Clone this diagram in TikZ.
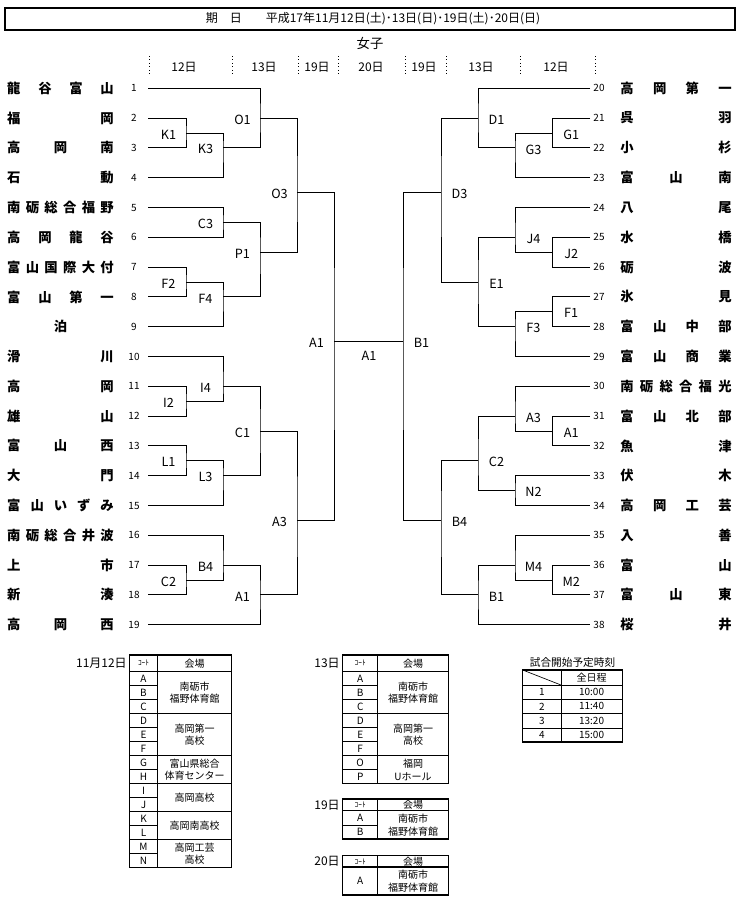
\documentclass[tikz,border=0pt]{standalone}
\usepackage{fontspec}
\newfontfamily\jp{Noto Sans CJK JP}
\usetikzlibrary{calc}

\tikzset{
  bline/.style={line width=0.75pt},
  tframe/.style={line width=1.1pt},
  tline/.style={line width=0.5pt},
  teamname/.style={font=\jp\bfseries\fontsize{10}{10}\selectfont, inner sep=0pt},
  teamnum/.style={font=\jp\fontsize{7.5}{7.5}\selectfont, inner sep=0pt},
  mlab/.style={font=\jp\fontsize{9.5}{9.5}\selectfont, inner sep=0pt},
  tabtxt/.style={font=\jp\fontsize{7.5}{9.5}\selectfont, inner sep=0pt, align=center},
  tabsmall/.style={font=\jp\fontsize{5.5}{6}\selectfont, inner sep=0pt},
  tabhead/.style={font=\jp\fontsize{9}{9}\selectfont, inner sep=0pt},
}
% row k of the bracket grid
\newcommand\ky[1]{{88.3+14.9*(#1)}}
% match: name, label, upper input, lower input, x of vertical, row of output
\newcommand\matchL[6]{%
  \coordinate (#1) at (#5,\ky{#6});
  \draw[bline] (#3) -| (#1) |- (#4);
  \node[mlab] (#1-l) at ({#5-17.5},{89.8+14.9*(#6)}) {#2};}
\newcommand\matchR[6]{%
  \coordinate (#1) at (#5,\ky{#6});
  \draw[bline] (#3) -| (#1) |- (#4);
  \node[mlab] (#1-l) at ({#5+18.5},{89.8+14.9*(#6)}) {#2};}

\begin{document}
\begin{tikzpicture}[x=0.75pt, y=-0.75pt]
  \fill[white] (0,0) rectangle (740,903);
  \useasboundingbox (0,0) rectangle (740,903);

  % header
  \draw[line width=1pt] (5,8) rectangle (735,30);
  \node[tabhead] (title) at (373,19) {期\quad 日\qquad 平成17年11月12日(土)･13日(日)･19日(土)･20日(日)};
  \node[font=\jp\fontsize{10}{10}\selectfont, inner sep=0pt] (girls) at (370,43) {女子};
  \foreach \x in {149,232,298,338,405,446,520,595}
    \draw[dotted, line width=0.6pt] (\x,56) -- (\x,76);
  \foreach \x/\d [count=\q] in {184/12日,264/13日,317/19日,371/20日,424/19日,481/13日,556/12日}
    \node[tabhead] (day\q) at (\x,67) {\d};

  % teams, left
  \foreach \i/\nm in {1/{龍\hfill 谷\hfill 富\hfill 山}, 2/{福\hfill 岡}, 3/{高\hfill 岡\hfill 南},
      4/{石\hfill 動}, 5/{南\hfill 砺\hfill 総\hfill 合\hfill 福\hfill 野}, 6/{高\hfill 岡\hfill 龍\hfill 谷},
      7/{富\hfill 山\hfill 国\hfill 際\hfill 大\hfill 付}, 8/{富\hfill 山\hfill 第\hfill 一}, 9/{\hfill 泊\hfill},
      10/{滑\hfill 川}, 11/{高\hfill 岡}, 12/{雄\hfill 山}, 13/{富\hfill 山\hfill 西}, 14/{大\hfill 門},
      15/{富\hfill 山\hfill い\hfill ず\hfill み}, 16/{南\hfill 砺\hfill 総\hfill 合\hfill 井\hfill 波},
      17/{上\hfill 市}, 18/{新\hfill 湊}, 19/{高\hfill 岡\hfill 西}}{
    \coordinate (t\i) at (148,\ky{2*(\i-1)});
    \node[teamname] (n\i) at (60.5,\ky{2*(\i-1)}) {\makebox[80pt][s]{\nm}};
    \node[teamnum] (num\i) at (134,\ky{2*(\i-1)}) {\i};
  }
  % teams, right
  \foreach \i/\nm in {20/{高\hfill 岡\hfill 第\hfill 一}, 21/{呉\hfill 羽}, 22/{小\hfill 杉}, 23/{富\hfill 山\hfill 南},
      24/{八\hfill 尾}, 25/{水\hfill 橋}, 26/{砺\hfill 波}, 27/{氷\hfill 見}, 28/{富\hfill 山\hfill 中\hfill 部},
      29/{富\hfill 山\hfill 商\hfill 業}, 30/{南\hfill 砺\hfill 総\hfill 合\hfill 福\hfill 光},
      31/{富\hfill 山\hfill 北\hfill 部}, 32/{魚\hfill 津}, 33/{伏\hfill 木}, 34/{高\hfill 岡\hfill 工\hfill 芸},
      35/{入\hfill 善}, 36/{富\hfill 山}, 37/{富\hfill 山\hfill 東}, 38/{桜\hfill 井}}{
    \coordinate (t\i) at (590,\ky{2*(\i-20)});
    \node[teamnum] (num\i) at (599,\ky{2*(\i-20)}) {\i};
    \node[teamname] (n\i) at (676,\ky{2*(\i-20)}) {\makebox[83.5pt][s]{\nm}};
  }

  % left bracket
  \matchL{lK1}{K1}{t2}{t3}{186}{3}
  \matchL{lK3}{K3}{lK1}{t4}{223}{4}
  \matchL{lO1}{O1}{t1}{lK3}{260}{2}
  \matchL{lC3}{C3}{t5}{t6}{223}{9}
  \matchL{lF2}{F2}{t7}{t8}{186}{13}
  \matchL{lF4}{F4}{lF2}{t9}{223}{14}
  \matchL{lP1}{P1}{lC3}{lF4}{260}{11}
  \matchL{lO3}{O3}{lO1}{lP1}{297}{7}
  \matchL{lI2}{I2}{t11}{t12}{186}{21}
  \matchL{lI4}{I4}{t10}{lI2}{223}{20}
  \matchL{lL1}{L1}{t13}{t14}{186}{25}
  \matchL{lL3}{L3}{lL1}{t15}{223}{26}
  \matchL{lC1}{C1}{lI4}{lL3}{260}{23}
  \matchL{lC2}{C2}{t17}{t18}{186}{33}
  \matchL{lB4}{B4}{t16}{lC2}{223}{32}
  \matchL{lA1}{A1}{lB4}{t19}{260}{34}
  \matchL{lA3}{A3}{lC1}{lA1}{297}{29}
  \matchL{lfin}{A1}{lO3}{lA3}{334}{17}

  % right bracket
  \matchR{rG1}{G1}{t21}{t22}{552.7}{3}
  \matchR{rG3}{G3}{rG1}{t23}{515}{4}
  \matchR{rD1}{D1}{t20}{rG3}{478}{2}
  \matchR{rJ2}{J2}{t25}{t26}{552.7}{11}
  \matchR{rJ4}{J4}{t24}{rJ2}{515}{10}
  \matchR{rF1}{F1}{t27}{t28}{552.7}{15}
  \matchR{rF3}{F3}{rF1}{t29}{515}{16}
  \matchR{rE1}{E1}{rJ4}{rF3}{478}{13}
  \matchR{rD3}{D3}{rD1}{rE1}{441}{7}
  \matchR{rA1}{A1}{t31}{t32}{552.7}{23}
  \matchR{rA3}{A3}{t30}{rA1}{515}{22}
  \matchR{rN2}{N2}{t33}{t34}{515}{27}
  \matchR{rC2}{C2}{rA3}{rN2}{478}{25}
  \matchR{rM2}{M2}{t36}{t37}{552.7}{33}
  \matchR{rM4}{M4}{t35}{rM2}{515}{32}
  \matchR{rB1}{B1}{rM4}{t38}{478}{34}
  \matchR{rB4}{B4}{rC2}{rB1}{441}{29}
  \matchR{rfin}{B1}{rD3}{rB4}{403}{17}

  % final
  \draw[bline] (lfin) -- (rfin);
  \node[mlab] (final) at (369,356) {A1};

  % venues 11/12
  \node[tabhead, anchor=east] (d12) at (127,663) {11月12日};
  \draw[tframe] (129.3,655) rectangle (231.7,867.7);
  \draw[tline] (157.7,655) -- (157.7,867.7);
  \draw[line width=1pt] (129.3,671.7) -- (231.7,671.7);
  \node[tabsmall] (c1h) at (143.5,663.3) {ｺｰﾄ};
  \node[tabtxt] (v1h) at (194.7,663.3) {会場};
  \foreach \l [count=\r] in {A,B,C,D,E,F,G,H,I,J,K,L,M,N}
    \node[tabtxt] (c1\l) at (143.5,{664.7+14*\r}) {\l};
  \foreach \r in {1,...,13}
    \draw[tline] (129.3,{671.7+14*\r}) -- (157.7,{671.7+14*\r});
  \foreach \r in {3,6,8,10,12}
    \draw[tline] (157.7,{671.7+14*\r}) -- (231.7,{671.7+14*\r});
  \foreach \r/\v [count=\q] in {1.5/{南砺市\\福野体育館}, 4.5/{高岡第一\\高校}, 7/{富山県総合\\体育センター},
      9/{高岡高校}, 11/{高岡南高校}, 13/{高岡工芸\\高校}}
    \node[tabtxt] (v1-\q) at (194.7,{671.7+14*\r}) {\v};

  % venues 13
  \node[tabhead, anchor=east] (d13) at (340,663) {13日};
  \draw[tframe] (342.7,655) rectangle (448.3,783.7);
  \draw[tline] (377.7,655) -- (377.7,783.7);
  \draw[line width=1pt] (342.7,671.7) -- (448.3,671.7);
  \node[tabsmall] (c2h) at (360.2,663.3) {ｺｰﾄ};
  \node[tabtxt] (v2h) at (413,663.3) {会場};
  \foreach \l [count=\r] in {A,B,C,D,E,F,O,P}
    \node[tabtxt] (c2\l) at (360.2,{664.7+14*\r}) {\l};
  \foreach \r in {1,...,7}
    \draw[tline] (342.7,{671.7+14*\r}) -- (377.7,{671.7+14*\r});
  \foreach \r in {3,6}
    \draw[tline] (377.7,{671.7+14*\r}) -- (448.3,{671.7+14*\r});
  \foreach \r/\v [count=\q] in {1.5/{南砺市\\福野体育館}, 4.5/{高岡第一\\高校}, 7/{福岡\\Uホール}}
    \node[tabtxt] (v2-\q) at (413,{671.7+14*\r}) {\v};

  % venues 19
  \node[tabhead, anchor=east] (d19) at (340,805) {19日};
  \draw[tframe] (342.7,799) rectangle (448.3,839);
  \draw[tline] (377.7,799) -- (377.7,839);
  \draw[line width=1pt] (342.7,810.7) -- (448.3,810.7);
  \draw[tline] (342.7,824.9) -- (377.7,824.9);
  \node[tabsmall] (c3h) at (360.2,805) {ｺｰﾄ};
  \node[tabtxt] (v3h) at (413,805) {会場};
  \node[tabtxt] (c3A) at (360.2,817.8) {A};
  \node[tabtxt] (c3B) at (360.2,832) {B};
  \node[tabtxt] (v3-1) at (413,824.9) {南砺市\\福野体育館};

  % venues 20
  \node[tabhead, anchor=east] (d20) at (340,861.5) {20日};
  \draw[tframe] (342.7,855.7) rectangle (448.3,895);
  \draw[tline] (377.7,855.7) -- (377.7,895);
  \draw[line width=1pt] (342.7,867) -- (448.3,867);
  \node[tabsmall] (c4h) at (360.2,861.5) {ｺｰﾄ};
  \node[tabtxt] (v4h) at (413,861.5) {会場};
  \node[tabtxt] (c4A) at (360.2,881) {A};
  \node[tabtxt] (v4-1) at (413,881) {南砺市\\福野体育館};

  % start times
  \node[tabtxt, font=\jp\fontsize{8}{8}\selectfont] (tt) at (572.5,662) {試合開始予定時刻};
  \draw[tframe] (522.7,670) rectangle (622.3,742.2);
  \draw[tline] (561,670) -- (561,742.2);
  \draw[tline] (522.7,670) -- (561,685);
  \draw[tline] (522.7,685) -- (622.3,685);
  \node[tabtxt] (tth) at (591.6,677.5) {全日程};
  \foreach \n/\t in {1/10:00, 2/11:40, 3/13:20, 4/15:00}{
    \draw[tline] (522.7,{685+14.3*\n}) -- (622.3,{685+14.3*\n});
    \node[tabtxt] (tn\n) at (541.8,{677.8+14.3*\n}) {\n};
    \node[tabtxt] (tv\n) at (591.6,{677.8+14.3*\n}) {\t};
  }
\end{tikzpicture}
\end{document}
